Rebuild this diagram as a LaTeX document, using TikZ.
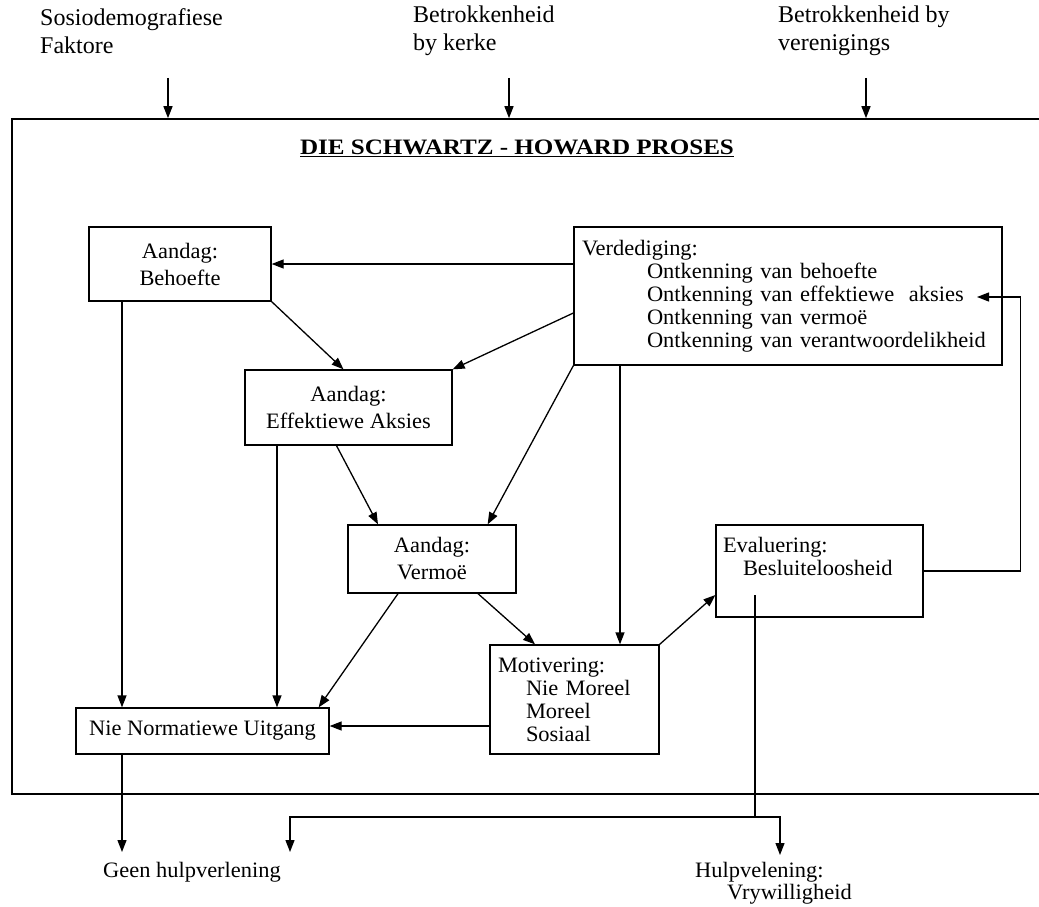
\documentclass[tikz,border=0pt]{standalone}
\usepackage{fontspec}
\setmainfont[FakeStretch=1.02]{Liberation Serif}
\newfontfamily\titlefont[FakeStretch=1.14]{Liberation Serif}
\newfontfamily\bofont[FakeStretch=1.0]{Liberation Serif}
\usetikzlibrary{arrows.meta}

\begin{document}
\begin{tikzpicture}[x=1pt,y=-1pt,
  every node/.style={font=\fontsize{22}{23}\selectfont},
  box/.style={draw,rectangle,line width=1.3pt,inner sep=0pt},
  aandag/.style={box,align=center,font=\fontsize{22}{27}\selectfont},
  lys/.style={box,align=left},
  bo/.style={anchor=west,align=left,inner sep=0pt,font=\bofont\fontsize{24}{28}\selectfont},
  arr/.style={-{Triangle[length=12pt,width=9pt]},line width=1.3pt},
  lyn/.style={line width=1.3pt}]
  \useasboundingbox (0,0) rectangle (1039,907);

  %frame
  \node[box,line width=1.6pt,minimum width=1050pt,minimum height=675pt] (frame) at (537,456.5) {};

  %top labels
  \node[bo] (sosio) at (40,31) {Sosiodemografiese\\Faktore};
  \node[bo] (kerke) at (413,31) {Betrokkenheid\\by kerke};
  \node[bo] (veren) at (778,31) {Betrokkenheid by\\verenigings};
  \coordinate (t1) at (168,78);
  \coordinate (t2) at (509,78);
  \coordinate (t3) at (866,78);

  %title
  \node (title) at (517,148) {\titlefont\fontsize{22}{23}\selectfont\bfseries\underline{DIE SCHWARTZ - HOWARD PROSES}};

  %aandag boxes
  \node[aandag,minimum width=182pt,minimum height=74pt] (behoefte) at (180,264) {Aandag:\\Behoefte};
  \node[aandag,minimum width=207pt,minimum height=75pt] (effek) at (348.5,407.5) {Aandag:\\Effektiewe Aksies};
  \node[aandag,minimum width=168pt,minimum height=68pt] (vermoe) at (432,559) {Aandag:\\Vermoë};

  %list boxes
  \node[lys,inner sep=8pt,text width=412pt,minimum height=138pt] (verd) at (788,296)
    {Verdediging:\\\hspace*{65pt}Ontkenning van behoefte\\\hspace*{65pt}Ontkenning van effektiewe~ aksies\\\hspace*{65pt}Ontkenning van vermoë\\\hspace*{65pt}Ontkenning van verantwoordelikheid};
  \node[lys,inner sep=8pt,text width=153pt,minimum height=109pt] (motiv) at (574.5,699.5)
    {Motivering:\\\hspace*{28pt}Nie Moreel\\\hspace*{28pt}Moreel\\\hspace*{28pt}Sosiaal};
  \node[lys,inner sep=7pt,text width=193pt,minimum height=92pt] (eval) at (819.5,571)
    {Evaluering:\\\hspace*{20pt}Besluiteloosheid\\\strut};
  \node[box,minimum width=253pt,minimum height=46pt] (nie) at (202.5,731) {Nie Normatiewe Uitgang};

  %outcomes
  \node[anchor=base west,inner sep=0pt] (geen) at (103,877) {Geen hulpverlening};
  \node[anchor=north west,align=left,inner sep=0pt,font=\fontsize{22}{22}\selectfont] (hulp) at (695,862) {Hulpvelening:\\\hspace*{32pt}Vrywilligheid};

  \coordinate (mtop) at ([xshift=45.5pt]motiv.north);
  \coordinate (verdin) at (977,297);
  \coordinate (evalout) at (755,595);
  \coordinate (split) at (755,817);
  \coordinate (geenin) at (290,852);
  \coordinate (hulpin) at (780,855);

  %edges
  \draw[arr] (t1) -- (t1 |- frame.north);
  \draw[arr] (t2) -- (t2 |- frame.north);
  \draw[arr] (t3) -- (t3 |- frame.north);
  \draw[arr] (verd.west |- behoefte.east) -- (behoefte.east);
  \draw[arr] ([yshift=-17pt]verd.west) -- (effek.north east);
  \draw[arr] (verd.south west) -- ([xshift=-29pt]vermoe.north east);
  \draw[arr] (verd.south -| mtop) -- (mtop);
  \draw[arr] (behoefte.south east) -- ([xshift=-5pt]effek.north);
  \draw[arr] ([xshift=-12pt]effek.south) -- ([xshift=-54pt]vermoe.north);
  \draw[arr] ([xshift=-58pt]behoefte.south) -- ([xshift=-58pt]behoefte.south |- nie.north);
  \draw[arr] ([xshift=-71.5pt]effek.south) -- ([xshift=-71.5pt]effek.south |- nie.north);
  \draw[arr] ([xshift=-34pt]vermoe.south) -- ([xshift=-11pt]nie.north east);
  \draw[arr] ([xshift=46pt]vermoe.south) -- ([xshift=-39.5pt]motiv.north);
  \draw[arr] ([yshift=-26.5pt]motiv.west) -- ([yshift=-26.5pt]motiv.west -| nie.east);
  \draw[arr] (motiv.north east) -- ([yshift=-24pt]eval.west);
  \draw[arr] (eval.east) -- ++(97,0) |- (verdin);
  \draw[arr] ([xshift=-80.5pt]nie.south) -- ([xshift=-80.5pt]nie.south |- geenin);
  \draw[lyn] (evalout) -- (split);
  \draw[arr] (split) -| (geenin);
  \draw[arr] (split) -| (hulpin);
\end{tikzpicture}
\end{document}
